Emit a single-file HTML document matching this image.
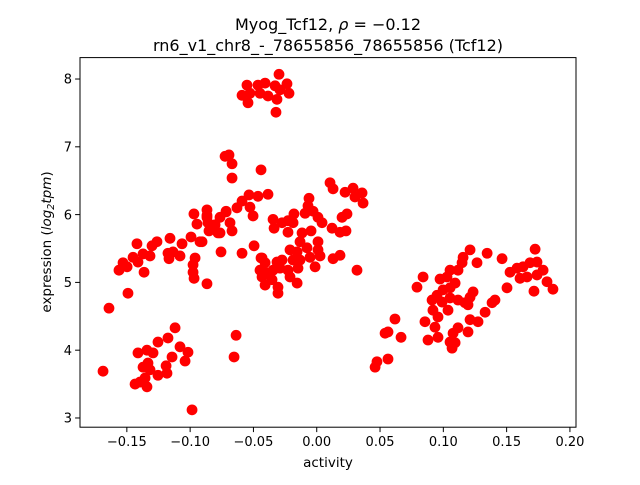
<!DOCTYPE html>
<html><head><meta charset="utf-8"><style>
body{margin:0;background:#fff;width:640px;height:480px;overflow:hidden}
svg text{font-family:"DejaVu Sans","Liberation Sans",sans-serif;fill:#000}
</style></head><body>
<svg id="chart" width="640" height="480" xmlns="http://www.w3.org/2000/svg">
<rect width="640" height="480" fill="#fff"/>
<text x="328" y="30" font-size="16" text-anchor="middle">Myog_Tcf12, <tspan font-style="italic">ρ</tspan> = −0.12</text>
<text x="328" y="51" font-size="16" text-anchor="middle">rn6_v1_chr8_-_78655856_78655856 (Tcf12)</text>
<text x="328" y="467" font-size="13.5" text-anchor="middle">activity</text>
<text transform="translate(51,242) rotate(-90)" font-size="13.5" text-anchor="middle">expression (<tspan font-style="italic">log</tspan><tspan font-style="italic" font-size="9.5" dy="3">2</tspan><tspan font-style="italic" dy="-3">tpm</tspan>)</text>
<g id="marks"></g>
<g id="axes"></g>
</svg>
<script>
const xTicks = [-0.15,-0.10,-0.05,0.00,0.05,0.10,0.15,0.20];
const xTickLabels = ["−0.15","−0.10","−0.05","0.00","0.05","0.10","0.15","0.20"];
const yTicks = [3,4,5,6,7,8];
const yTickLabels = ["3","4","5","6","7","8"];
const activity = [
-0.097,-0.0867,-0.0867,-0.0716,-0.0764,-0.0946,-0.0859,-0.0803,-0.0685,-0.0851,-0.078,-0.0669,-0.1159,-0.0993,-0.0922,-0.1064,-0.1262,-0.1301,-0.142,-0.0756,-0.059,-0.0495,-0.1175,-0.1135,-0.108,-0.1167,-0.0961,-0.1317,-0.1372,-0.1451,-0.1412,-0.153,-0.1498,-0.1562,-0.1364,-0.0977,-0.0977,-0.0969,-0.0867,-0.1491,-0.1641,-0.044,-0.0448,-0.0408,-0.0424,
-0.1119,-0.1175,-0.1254,-0.0637,-0.0653,-0.1412,-0.1341,-0.1293,-0.108,-0.1017,-0.1143,-0.104,-0.119,-0.1183,-0.1254,-0.1333,-0.1372,-0.1317,-0.1688,-0.1435,-0.1396,-0.1356,-0.1341,-0.0985,
-0.0298,-0.0551,-0.0464,-0.0408,-0.0329,-0.0235,-0.059,-0.0527,-0.0448,-0.0385,-0.029,-0.0219,-0.0543,-0.0314,-0.0322,
-0.0724,-0.0693,-0.0669,-0.0669,-0.044,0.0105,0.0129,0.0224,0.0287,0.0358,0.0366,0.0302,-0.0385,-0.0535,-0.0464,-0.059,-0.063,-0.0527,-0.0503,-0.0867,-0.0716,-0.0764,-0.0906,
-0.0345,-0.0274,-0.0227,-0.018,-0.0187,-0.0337,-0.0227,-0.0061,-0.0069,-0.0029,-0.0092,0.001,0.0042,0.0121,0.02,0.0239,0.0184,0.0231,-0.0116,-0.0045,0.001,-0.0132,-0.0211,-0.0155,-0.0077,0.001,0.0026,-0.0053,-0.0132,-0.0187,-0.0227,-0.0274,-0.0314,-0.0432,-0.0408,-0.0393,-0.0345,-0.029,-0.0148,-0.0013,0.0129,0.0184,0.0318,-0.0211,-0.0155,-0.0306,-0.0306,-0.0353,-0.0432,
0.1211,0.1346,0.1156,0.1266,0.1464,0.1725,0.1685,0.174,0.1788,0.163,0.1582,0.1527,0.1606,0.1661,0.174,0.1819,0.1866,0.1716,0.1148,0.1116,0.1053,0.1029,0.0974,0.084,0.0792,0.1093,0.1053,0.0998,0.095,0.0911,0.099,0.1053,0.1116,0.1171,0.1211,0.1235,0.1195,0.1503,0.1408,0.1385,0.133,0.1274,0.1211,0.1195,0.1116,0.1077,0.1053,0.1093,0.1069,0.0958,0.0879,0.0855,0.0934,0.0918,0.0958,0.1037,0.0618,0.0563,0.054,0.0666,0.0563,0.0476,0.0461
];
const expression = [
6.01,6.07,5.99,6.05,5.96,5.86,5.88,5.85,5.88,5.76,5.73,5.76,5.65,5.67,5.60,5.57,5.60,5.54,5.57,5.45,5.43,5.54,5.43,5.45,5.39,5.35,5.36,5.39,5.42,5.37,5.30,5.29,5.23,5.18,5.15,5.26,5.15,5.06,4.98,4.84,4.62,5.36,5.18,4.96,5.14,
4.33,4.18,4.12,4.22,3.90,3.96,4.00,3.96,4.05,3.97,3.90,3.84,3.77,3.66,3.63,3.81,3.75,3.71,3.69,3.50,3.53,3.59,3.46,3.12,
8.07,7.91,7.91,7.94,7.90,7.93,7.76,7.79,7.79,7.75,7.84,7.79,7.65,7.70,7.51,
6.86,6.88,6.75,6.54,6.66,6.47,6.38,6.33,6.39,6.32,6.17,6.26,6.30,6.29,6.27,6.20,6.10,6.11,5.98,5.96,6.04,5.73,5.60,
5.93,5.88,5.91,6.01,5.88,5.80,5.74,6.24,6.13,6.05,6.02,5.96,5.88,5.80,5.96,6.01,5.74,5.76,5.73,5.76,5.60,5.60,5.48,5.45,5.51,5.48,5.39,5.37,5.33,5.33,5.18,5.33,5.30,5.36,5.29,5.14,5.18,5.21,5.21,5.23,5.35,5.40,5.18,5.08,4.99,4.93,4.84,5.04,5.08,
5.48,5.43,5.37,5.29,5.35,5.49,5.29,5.30,5.18,5.23,5.21,5.15,5.06,5.08,5.11,5.01,4.90,4.87,5.29,5.18,5.18,5.08,5.05,5.08,4.93,4.99,4.92,4.89,4.81,4.74,4.71,4.77,4.74,4.70,4.78,4.86,4.67,4.92,4.74,4.70,4.56,4.42,4.45,4.27,4.33,4.25,4.12,4.11,4.03,4.19,4.15,4.42,4.34,4.59,4.49,4.59,4.46,4.27,4.25,4.19,3.87,3.83,3.75
];
const NS='http://www.w3.org/2000/svg';
const L=80,R=576,T=57.6,B=427.2;
const xMin=-0.1870,xMax=0.2048,yMin=2.864,yMax=8.316;
const xs=v=>L+(v-xMin)/(xMax-xMin)*(R-L);
const ys=v=>B-(v-yMin)/(yMax-yMin)*(B-T);
function mk(tag,attrs,parent){const e=document.createElementNS(NS,tag);for(const k in attrs)e.setAttribute(k,attrs[k]);parent.appendChild(e);return e;}
const marks=document.getElementById('marks');
for(let i=0;i<activity.length;i++){
  const c=mk('circle',{cx:xs(activity[i]),cy:ys(expression[i]),r:5.4,fill:'#ff0000'},marks);
  
  
}
const axes=document.getElementById('axes');
const frame=mk('rect',{x:L,y:T,width:R-L,height:B-T,fill:'none',stroke:'#000','stroke-width':1},axes);


xTicks.forEach((t,i)=>{
  const x=xs(t);
  const tk=mk('line',{x1:x,x2:x,y1:B,y2:B+4.9,stroke:'#000','stroke-width':1},axes);
  
  
  const tx=mk('text',{x:x,y:B+19,'font-size':13,'text-anchor':'middle'},axes);
  tx.textContent=xTickLabels[i];
  
  
});
yTicks.forEach((t,i)=>{
  const y=ys(t);
  const tk=mk('line',{x1:L-4.9,x2:L,y1:y,y2:y,stroke:'#000','stroke-width':1},axes);
  
  
  const tx=mk('text',{x:L-8,y:y+4.7,'font-size':13,'text-anchor':'end'},axes);
  tx.textContent=yTickLabels[i];
  
  
});
</script>
</body></html>
